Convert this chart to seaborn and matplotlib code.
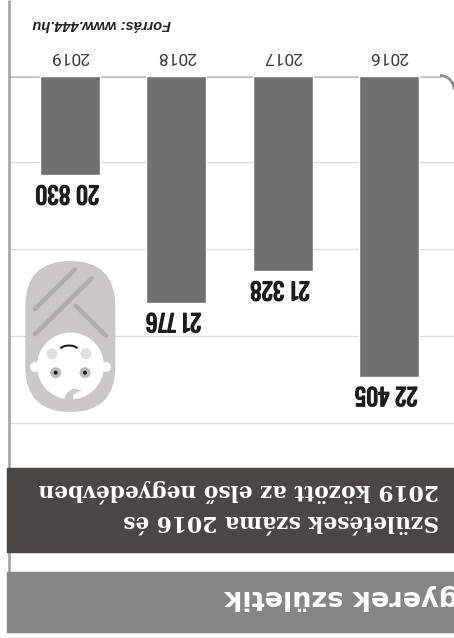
import matplotlib
matplotlib.use("Agg")
import matplotlib.pyplot as plt
import matplotlib.patheffects as pe
import pandas as pd
import seaborn as sns
from matplotlib.patches import Arc, Circle, FancyBboxPatch, PathPatch, Rectangle
from matplotlib.path import Path

# Données
years = ["2016", "2017", "2018", "2019"]
births = [22405, 21328, 21776, 20830]
# Les barres ne sont pas à l'échelle des étiquettes : longueurs lues sur la grille
bar_heights = [3.465, 2.25, 2.615, 1.145]
grid_steps = [1, 2, 3, 4]

W, H = 454, 638
NUM_FONT = ["Oswald", "Roboto Condensed", "Liberation Sans", "DejaVu Sans"]
SLAB_FONT = ["DejaVu Serif"]

sns.set_theme(style="white")
plt.rcParams["font.family"] = ["Liberation Sans", "DejaVu Sans"]

fig = plt.figure(figsize=(W / 100, H / 100), dpi=100, facecolor="white")

# Le graphique : x et y inversés car toute l'image est retournée
top, bottom = 75.5, 430
left, right = 9, W
ax = fig.add_axes([left / W, 1 - bottom / H, (right - left) / W, (bottom - top) / H], zorder=1)
df = pd.DataFrame({"year": years, "height": bar_heights})
sns.barplot(data=df, x="year", y="height", order=years, color="#717071", saturation=1,
            width=0.565, ax=ax, zorder=3)
ax.set_xlim(3.574, -0.611)
ax.set_ylim(4 + 7 / 87, 0)
ax.set_xlabel("")
ax.set_ylabel("")
ax.set_xticks([])
ax.set_yticks([])
ax.patch.set_alpha(0)
for s in ax.spines.values():
    s.set_visible(False)
for g in grid_steps:
    ax.axhline(g, color="#dcdcdc", lw=1, zorder=1)
ax.axhline(0, xmax=0.968, color="#c8c8c8", lw=2.4, zorder=2)

for i, (y, h, b) in enumerate(zip(years, bar_heights, births)):
    ax.annotate(y, (i, 0), xytext=(0, 13.5), textcoords="offset points", rotation=180,
                ha="center", va="center", fontsize=12.5, color="#3a3a3a",
                annotation_clip=False, family=["Roboto", "Liberation Sans"])
    lab = f"{b:,}".replace(",", " ")
    # Oswald n'a que la graisse normale ici : on épaissit avec un contour
    ax.annotate(lab, (i, h), xytext=(-2, -13), textcoords="offset points", rotation=180,
                ha="center", va="center", fontsize=17, fontweight="bold", color="#1c1c1c",
                family=NUM_FONT,
                path_effects=[pe.withStroke(linewidth=0.9, foreground="#1c1c1c")])

# Calque en pixels de l'image (y vers le bas)
bg = fig.add_axes([0, 0, 1, 1], zorder=2)
bg.set_xlim(0, W)
bg.set_ylim(H, 0)
bg.axis("off")

bg.plot([8.7, 8.7], [0, 572], color="#a3a3a3", lw=1.9, solid_capstyle="butt", zorder=1)
bg.add_patch(Rectangle((7, 468), W, 84, color="#4a4644", zorder=3))
bg.add_patch(Rectangle((7, 572), W, 60, color="#858585", zorder=3))

# Coin arrondi du cadre à droite
bg.add_patch(Arc((440, 89.5), 28, 28, theta1=270, theta2=360, color="#8f8f8f", lw=1.9))

# Textes
bg.text(171, 23.5, "Forrás: www.444.hu", rotation=180, ha="right", va="center",
        fontsize=10.5, style="italic", fontweight="bold", color="#222222")
bg.text(439, 491, "2019 között az első negyedévben", rotation=180, ha="right", va="center",
        fontsize=15.7, fontweight="bold", color="white", family=SLAB_FONT, zorder=4)
bg.text(439, 521, "Születések száma 2016 és", rotation=180, ha="right", va="center",
        fontsize=15.7, fontweight="bold", color="white", family=SLAB_FONT, zorder=4)
bg.text(224, 597, "gyerek születik", rotation=180, ha="left", va="center",
        fontsize=19.5, fontweight="bold", color="white", family=["DejaVu Sans"], zorder=4)

# Le bébé
bg.add_patch(FancyBboxPatch((70.3, 306), 0, 61, boxstyle="round,pad=45,rounding_size=45",
                            fc="#c9c8c7", ec="none", zorder=5))
for (x0, y0, x1, y1) in [(35, 309, 75, 269.3), (35, 334.3, 91.7, 278.3), (75.7, 305.7, 106, 335.7)]:
    bg.plot([x0, x1], [y0, y1], color="#acacab", lw=3.2, solid_capstyle="round", zorder=6)
for x in (35, 106):
    bg.add_patch(Circle((x, 367), 5, fc="white", ec="none", zorder=6))
bg.add_patch(Circle((70.5, 366), 33.5, fc="white", ec="none", zorder=6))
for x in (52, 86):
    bg.add_patch(Circle((x, 353.7), 5.5, fc="#e1e0e1", ec="none", zorder=7))
for x in (55.7, 85):
    bg.add_patch(Circle((x, 372.7), 5.5, fc="#bdbcba", ec="none", zorder=7))
    bg.add_patch(Circle((x, 372.7), 2, fc="#111111", ec="none", zorder=8))
bg.add_patch(Arc((69, 351.5), 20, 12, theta1=200, theta2=340, color="#111111", lw=1.4, zorder=8))
curl = Path([(64, 400), (66, 391), (74, 388.5), (82, 390.5), (76, 392), (73, 395), (73.5, 400), (64, 400)],
            [Path.MOVETO, Path.CURVE3, Path.CURVE3, Path.LINETO, Path.CURVE3, Path.CURVE3, Path.LINETO, Path.CLOSEPOLY])
bg.add_patch(PathPatch(curl, fc="#c9c8c7", ec="none", zorder=8))

fig.savefig("out.png", dpi=100)
